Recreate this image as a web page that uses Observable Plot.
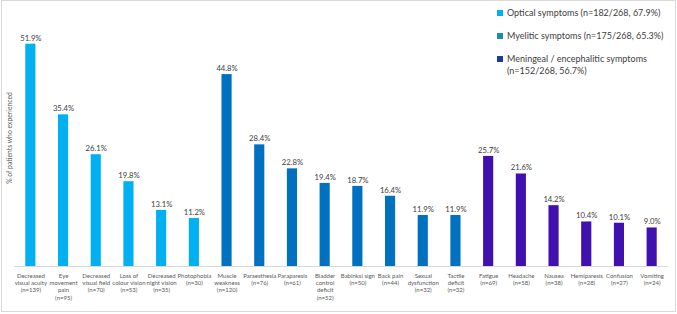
<!DOCTYPE html>
<html>
<head>
<meta charset="utf-8">
<script src="https://cdn.jsdelivr.net/npm/d3@7"></script>
<script src="https://cdn.jsdelivr.net/npm/@observablehq/plot@0.6"></script>
<style>
  html, body { margin: 0; padding: 0; background: #fff; }
  #chart { position: relative; width: 677px; height: 314px; font-family: Lato, "Open Sans", sans-serif; }
  #chart svg { display: block; }
  #frame { position: absolute; left: 1px; top: 0; width: 675px; height: 312px; border: 1px solid #d9d9d9; box-sizing: border-box; pointer-events: none; }
  #legend { position: absolute; left: 497px; top: 7px; width: 172px; font-size: 9px; color: #404040; line-height: 11.5px; }
  #legend .item { position: relative; padding-left: 10px; margin-bottom: 11.5px; }
  #legend .sw { position: absolute; left: 0; top: 3px; width: 6px; height: 6px; }
</style>
</head>
<body>
<div id="chart"><div id="frame"></div></div>
<script>
// Symptom names (line breaks as printed under each bar)
const symptoms = [
  "Decreased\nvisual acuity", "Eye\nmovement\npain", "Decreased\nvisual field", "Loss of\ncolour vision",
  "Decreased\nnight vision", "Photophobia",
  "Muscle\nweakness", "Paraesthesia", "Paraparesis", "Bladder\ncontrol\ndeficit", "Babinksi sign",
  "Back pain", "Sexual\ndysfunction", "Tactile\ndeficit",
  "Fatigue", "Headache", "Nausea", "Hemiparesis", "Confusion", "Vomiting"
];
// Number of patients reporting each symptom
const counts = [139, 95, 70, 53, 35, 30, 120, 76, 61, 52, 50, 44, 32, 32, 69, 58, 38, 28, 27, 24];
// Share of the 268 patients, in percent
const percents = [51.9, 35.4, 26.1, 19.8, 13.1, 11.2, 44.8, 28.4, 22.8, 19.4, 18.7, 16.4, 11.9, 11.9, 25.7, 21.6, 14.2, 10.4, 10.1, 9.0];
// Symptom group of each bar
const groups = [
  "Optical", "Optical", "Optical", "Optical", "Optical", "Optical",
  "Myelitic", "Myelitic", "Myelitic", "Myelitic", "Myelitic", "Myelitic", "Myelitic", "Myelitic",
  "Meningeal", "Meningeal", "Meningeal", "Meningeal", "Meningeal", "Meningeal"
];
const groupNames = ["Optical", "Myelitic", "Meningeal"];
const barColors = ["#00b0f0", "#0070c0", "#4011ae"];
const legendLabels = [
  "Optical symptoms (n=182/268, 67.9%)",
  "Myelitic symptoms (n=175/268, 65.3%)",
  "Meningeal / encephalitic symptoms (n=152/268, 56.7%)"
];
const legendSwatches = ["#00b0f0", "#1a8ab8", "#1f3a9a"];

const data = symptoms.map((s, i) => ({
  key: `${s}\n(n=${counts[i]})`,
  pct: percents[i],
  group: groups[i]
}));

const plot = Plot.plot({
  width: 677,
  height: 314,
  marginLeft: 14,
  marginRight: 9,
  marginTop: 9,
  marginBottom: 48,
  style: { fontFamily: "Lato, 'Open Sans', sans-serif", background: "transparent" },
  x: { domain: data.map(d => d.key), paddingInner: 0.69, paddingOuter: 0.345, round: false, axis: null },
  y: { domain: [0, 60], axis: null },
  color: { domain: groupNames, range: barColors },
  marks: [
    Plot.barY(data, { x: "key", y: "pct", fill: "group" }),
    Plot.ruleY([0], { stroke: "#d9d9d9", strokeWidth: 1 }),
    Plot.text(data, {
      x: "key", y: "pct", text: d => d.pct.toFixed(1) + "%",
      dy: -6, fontSize: 7.7, fill: "#404040"
    }),
    Plot.axisX({
      tickSize: 0, tickPadding: 6, fontSize: 6, lineHeight: 1.22,
      color: "#595959", label: null
    }),
    Plot.text(["% of patients who experienced"], {
      frameAnchor: "left", dx: -5, dy: 0, rotate: -90,
      fontSize: 6.8, fill: "#595959", textAnchor: "middle"
    })
  ]
});

const chart = document.getElementById("chart");
chart.insertBefore(plot, chart.firstChild);

const legend = document.createElement("div");
legend.id = "legend";
legendLabels.forEach((t, i) => {
  const item = document.createElement("div");
  item.className = "item";
  const sw = document.createElement("span");
  sw.className = "sw";
  sw.style.background = legendSwatches[i];
  item.appendChild(sw);
  item.appendChild(document.createTextNode(t));
  legend.appendChild(item);
});
chart.appendChild(legend);
</script>
</body>
</html>
